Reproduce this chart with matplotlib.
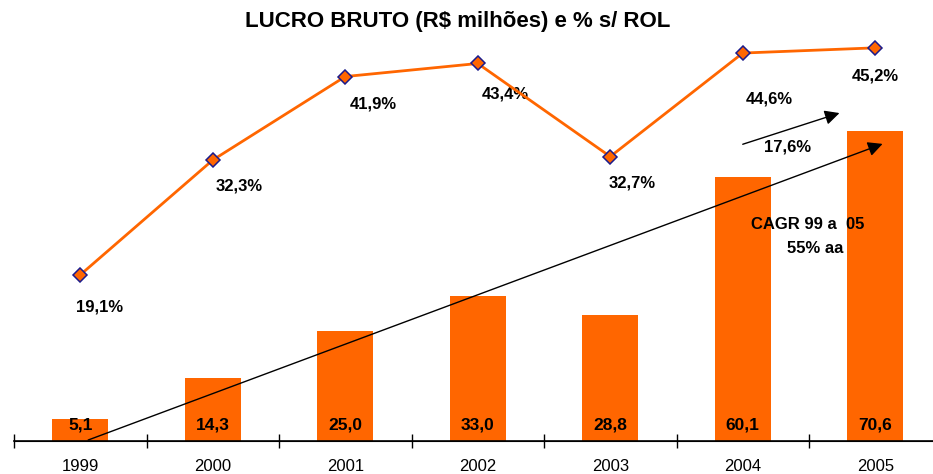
import matplotlib.pyplot as plt

plt.rcParams['font.family'] = ['Liberation Sans', 'DejaVu Sans']

anos = ["1999", "2000", "2001", "2002", "2003", "2004", "2005"]
lucro_bruto = [5.1, 14.3, 25.0, 33.0, 28.8, 60.1, 70.6]
pct_rol = [19.1, 32.3, 41.9, 43.4, 32.7, 44.6, 45.2]

lucro_labels = ["5,1", "14,3", "25,0", "33,0", "28,8", "60,1", "70,6"]
pct_labels = ["19,1%", "32,3%", "41,9%", "43,4%", "32,7%", "44,6%", "45,2%"]

# label offsets (points) for the % labels
pct_offsets = [(14, -23), (19, -19), (20, -20), (20, -22), (16, -19), (19, -33), (0, -20)]

laranja = "#FF6600"

fig = plt.figure(figsize=(9.33, 4.74), dpi=100)
ax = fig.add_axes([14 / 933, 33 / 474, 927.5 / 933, 421 / 474])
ax2 = ax.twinx()

x = list(range(len(anos)))
ax.bar(x, lucro_bruto, width=0.42, color=laranja, zorder=2)
ax.set_xlim(-0.5, 6.5)
ax.set_ylim(0, 95.9)
ax2.set_ylim(0, 48.4)

for xi, lab in zip(x, lucro_labels):
    ax.annotate(lab, xy=(xi, 0), xytext=(0, 11.5), textcoords="offset points",
                ha="center", va="center", fontsize=12.5, fontweight="bold", zorder=3)

ax2.plot(x, pct_rol, color=laranja, lw=2, marker="D", markersize=7,
         markerfacecolor=laranja, markeredgecolor="#1a1a8c", markeredgewidth=1.1, zorder=4)
for xi, v, lab, off in zip(x, pct_rol, pct_labels, pct_offsets):
    ax2.annotate(lab, xy=(xi, v), xytext=off, textcoords="offset points",
                 ha="center", va="center", fontsize=12, fontweight="bold")

# spines and ticks
for a in (ax, ax2):
    for s in ("left", "right", "top"):
        a.spines[s].set_visible(False)
    a.set_yticks([])
ax.spines["bottom"].set_linewidth(1.2)
ax.set_xticks([i - 0.5 for i in range(len(anos) + 1)])
ax.set_xticklabels([])
ax.tick_params(axis="x", which="major", direction="inout", length=10, width=1)
ax.set_xticks(x, minor=True)
ax.set_xticklabels(anos, minor=True, fontsize=12)
ax.tick_params(axis="x", which="minor", length=0, pad=13)

# CAGR arrows
ax2.annotate("", xy=(6.075, 67.9), xytext=(0.04, 0), xycoords=ax.transData,
             textcoords=ax.transData,
             arrowprops=dict(arrowstyle="-|>", color="black", lw=1, mutation_scale=22), zorder=5)
ax2.annotate("", xy=(5.75, 74.9), xytext=(4.98, 67.4), xycoords=ax.transData,
             textcoords=ax.transData,
             arrowprops=dict(arrowstyle="-|>", color="black", lw=1, mutation_scale=22), zorder=5)
ax.text(5.34, 67, "17,6%", ha="center", va="center", fontsize=12, fontweight="bold", zorder=5)
ax.text(5.49, 49.4, "CAGR 99 a  05", ha="center", va="center", fontsize=12, fontweight="bold", zorder=5)
ax.text(5.55, 43.9, "55% aa", ha="center", va="center", fontsize=12, fontweight="bold", zorder=5)

fig.text(458 / 933, 1 - 22 / 474, "LUCRO BRUTO (R$ milhões) e % s/ ROL",
         ha="center", va="center", fontsize=16, fontweight="bold")

fig.savefig("out.png", dpi=100)
